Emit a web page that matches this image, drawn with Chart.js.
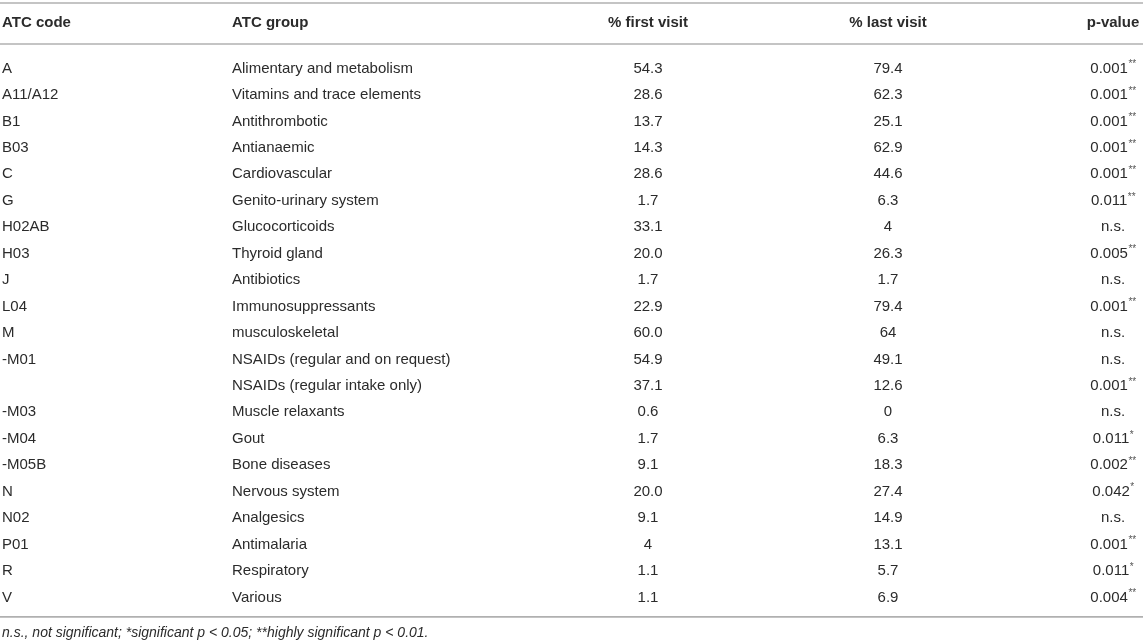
<!DOCTYPE html>
<html>
<head>
<meta charset="utf-8">
<title>ATC groups – first and last visit</title>
<script src="https://cdn.jsdelivr.net/npm/chart.js@4/dist/chart.umd.min.js"></script>
<style>
  html, body { margin: 0; padding: 0; background: #fff; }
  #wrap { width: 1143px; height: 643px; position: relative; }
</style>
</head>
<body>
<div id="wrap"><canvas id="tabla"></canvas></div>
<script>
// Datos de la tabla
const columnas = ["ATC code", "ATC group", "% first visit", "% last visit", "p-value"];
const codigos = ["A", "A11/A12", "B1", "B03", "C", "G", "H02AB", "H03", "J", "L04", "M",
  "-M01", "", "-M03", "-M04", "-M05B", "N", "N02", "P01", "R", "V"];
const grupos = ["Alimentary and metabolism", "Vitamins and trace elements", "Antithrombotic",
  "Antianaemic", "Cardiovascular", "Genito-urinary system", "Glucocorticoids", "Thyroid gland",
  "Antibiotics", "Immunosuppressants", "musculoskeletal", "NSAIDs (regular and on request)",
  "NSAIDs (regular intake only)", "Muscle relaxants", "Gout", "Bone diseases", "Nervous system",
  "Analgesics", "Antimalaria", "Respiratory", "Various"];
const primeraVisita = ["54.3", "28.6", "13.7", "14.3", "28.6", "1.7", "33.1", "20.0", "1.7", "22.9",
  "60.0", "54.9", "37.1", "0.6", "1.7", "9.1", "20.0", "9.1", "4", "1.1", "1.1"];
const ultimaVisita = ["79.4", "62.3", "25.1", "62.9", "44.6", "6.3", "4", "26.3", "1.7", "79.4",
  "64", "49.1", "12.6", "0", "6.3", "18.3", "27.4", "14.9", "13.1", "5.7", "6.9"];
const pValores = ["0.001", "0.001", "0.001", "0.001", "0.001", "0.011", "n.s.", "0.005", "n.s.", "0.001",
  "n.s.", "n.s.", "0.001", "n.s.", "0.011", "0.002", "0.042", "n.s.", "0.001", "0.011", "0.004"];
const pEstrellas = ["**", "**", "**", "**", "**", "**", "", "**", "", "**",
  "", "", "**", "", "*", "**", "*", "", "**", "*", "**"];
const nota = "n.s., not significant; *significant p < 0.05; **highly significant p < 0.01.";

// Posiciones de columna (en unidades del eje x) y alineación
const anclas = [2, 232, 648, 888, 1113];
const alineacion = ["left", "left", "center", "center", "center"];

const FUENTE = '"Liberation Sans", Arial, Helvetica, sans-serif';
const COLOR_TEXTO = "#2b2b2b";
const COLOR_LINEA = "#b0b0b0";

// Filas especiales fuera de la cuadrícula (en unidades de fila)
const Y_LINEA_SUP = -2.477;
const Y_CABECERA = -1.71;
const Y_LINEA_CAB = -0.927;
const Y_LINEA_INF = 20.733;
const Y_NOTA = 21.36;

const celdas = [codigos, grupos, primeraVisita, ultimaVisita, pValores];

const datasets = celdas.map((col, c) => ({
  label: columnas[c],
  data: col.map((_, i) => ({ x: anclas[c], y: i })),
  pointRadius: 0,
  pointHoverRadius: 0,
  showLine: false,
  textos: col,
  alinear: alineacion[c],
}));

function linea(ctx, chart, yv) {
  const y = chart.scales.y.getPixelForValue(yv);
  ctx.beginPath();
  ctx.moveTo(chart.chartArea.left, y);
  ctx.lineTo(chart.chartArea.right, y);
  ctx.stroke();
}

const pluginTabla = {
  id: "tabla",
  afterDatasetsDraw(chart) {
    const ctx = chart.ctx;
    const sx = chart.scales.x, sy = chart.scales.y;
    ctx.save();
    ctx.textBaseline = "middle";
    ctx.fillStyle = COLOR_TEXTO;

    // líneas horizontales
    ctx.strokeStyle = COLOR_LINEA;
    ctx.lineWidth = 1.6;
    [Y_LINEA_SUP, Y_LINEA_CAB, Y_LINEA_INF].forEach(v => linea(ctx, chart, v));

    // cabecera
    ctx.font = "bold 15px " + FUENTE;
    columnas.forEach((t, c) => {
      ctx.textAlign = alineacion[c];
      ctx.fillText(t, sx.getPixelForValue(anclas[c]), sy.getPixelForValue(Y_CABECERA));
    });

    // celdas
    chart.data.datasets.forEach((ds, c) => {
      const meta = chart.getDatasetMeta(c);
      meta.data.forEach((pt, i) => {
        const txt = ds.textos[i];
        if (c === 4) {
          ctx.font = "15px " + FUENTE;
          const w1 = ctx.measureText(txt).width;
          ctx.font = "10px " + FUENTE;
          const w2 = ctx.measureText(pEstrellas[i]).width;
          const x0 = pt.x - (w1 + w2) / 2;
          ctx.textAlign = "left";
          ctx.font = "15px " + FUENTE;
          ctx.fillText(txt, x0, pt.y);
          ctx.font = "10px " + FUENTE;
          ctx.fillStyle = "#555";
          ctx.fillText(pEstrellas[i], x0 + w1 + 0.5, pt.y - 4);
          ctx.fillStyle = COLOR_TEXTO;
        } else {
          ctx.font = "15px " + FUENTE;
          ctx.textAlign = ds.alinear;
          ctx.fillText(txt, pt.x, pt.y);
        }
      });
    });

    // nota al pie
    ctx.font = "italic 14px " + FUENTE;
    ctx.textAlign = "left";
    ctx.fillText(nota, sx.getPixelForValue(anclas[0]), sy.getPixelForValue(Y_NOTA));
    ctx.restore();
  }
};

new Chart(document.getElementById("tabla"), {
  type: "scatter",
  data: { datasets },
  options: {
    responsive: true,
    maintainAspectRatio: false,
    animation: false,
    events: [],
    layout: { padding: 0 },
    plugins: { legend: { display: false }, tooltip: { enabled: false } },
    scales: {
      x: { type: "linear", min: 0, max: 1143, display: false },
      y: { type: "linear", reverse: true, min: -2.59, max: 21.72, display: false },
    },
  },
  plugins: [pluginTabla],
});
</script>
</body>
</html>
